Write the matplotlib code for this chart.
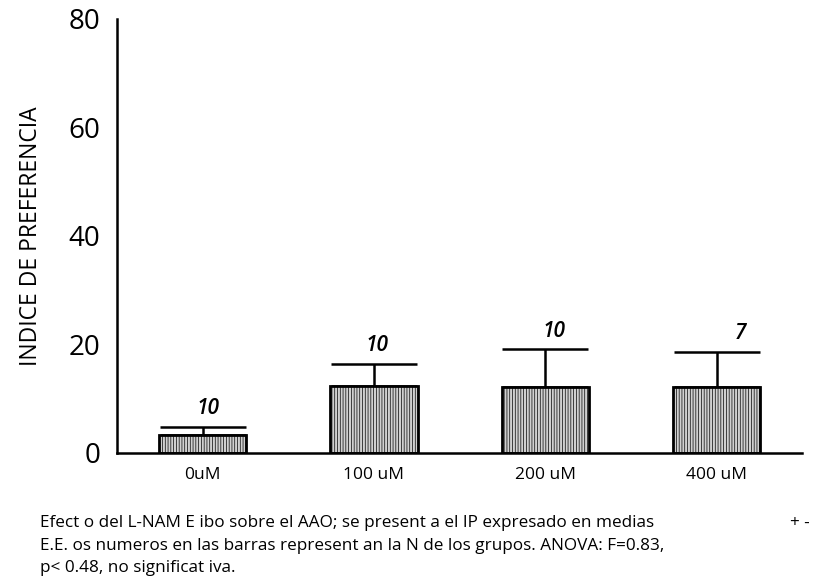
import matplotlib
matplotlib.use("Agg")
import matplotlib.pyplot as plt
import numpy as np

plt.rcParams['font.family'] = ['Open Sans', 'DejaVu Sans']
plt.rcParams['hatch.color'] = '#444444'
plt.rcParams['hatch.linewidth'] = 0.5

# data
groups = ['0uM', '100 uM', '200 uM', '400 uM']
means = [3.3, 12.4, 12.2, 12.2]
errors = [1.5, 4.0, 6.9, 6.5]
n_labels = ['10', '10', '10', '7']
n_shift = [0.03, 0.02, 0.05, 0.14]   # label offsets as drawn in the original

x = np.arange(len(groups))
bar_w = 0.51

fig = plt.figure(figsize=(8.33, 5.86), dpi=100)
ax = fig.add_axes([0.1405, 0.227, 0.8225, 0.7406])

ax.bar(x, means, width=bar_w, color='#d0d0d0', edgecolor='black',
       linewidth=2, hatch='||||||', zorder=2)
ax.errorbar(x, means, yerr=[np.zeros(len(means)), errors], fmt='none',
            ecolor='black', elinewidth=1.8, capsize=31, capthick=1.8, zorder=1)

for xi, m, e, lab, s in zip(x, means, errors, n_labels, n_shift):
    ax.text(xi + s, m + e + 1.4, lab, ha='center', va='bottom',
            fontsize=15, style='italic', fontweight='semibold')

ax.set_xlim(-0.5, 3.5)
ax.set_ylim(0, 80)
ax.set_yticks([0, 20, 40, 60, 80])
ax.set_xticks(x)
ax.set_xticklabels(groups, fontsize=12.5)
ax.tick_params(axis='y', labelsize=20, length=0, pad=12)
ax.tick_params(axis='x', length=0, pad=10)
ax.spines['top'].set_visible(False)
ax.spines['right'].set_visible(False)
ax.spines['left'].set_linewidth(1.8)
ax.spines['bottom'].set_linewidth(1.8)
ax.set_ylabel('INDICE DE PREFERENCIA', fontsize=16.5, labelpad=18)

cap_fs = 12.3
fig.text(0.048, 0.107, 'Efect o del L-NAM E ibo sobre el AAO; se present a el IP expresado en medias',
         fontsize=cap_fs, va='center')
fig.text(0.948, 0.107, '+ -', fontsize=cap_fs, va='center')
fig.text(0.048, 0.068, 'E.E. os numeros en las barras represent an la N de los grupos. ANOVA: F=0.83,',
         fontsize=cap_fs, va='center')
fig.text(0.048, 0.030, 'p< 0.48, no significat iva.', fontsize=cap_fs, va='center')

plt.savefig('out.png', dpi=100)
